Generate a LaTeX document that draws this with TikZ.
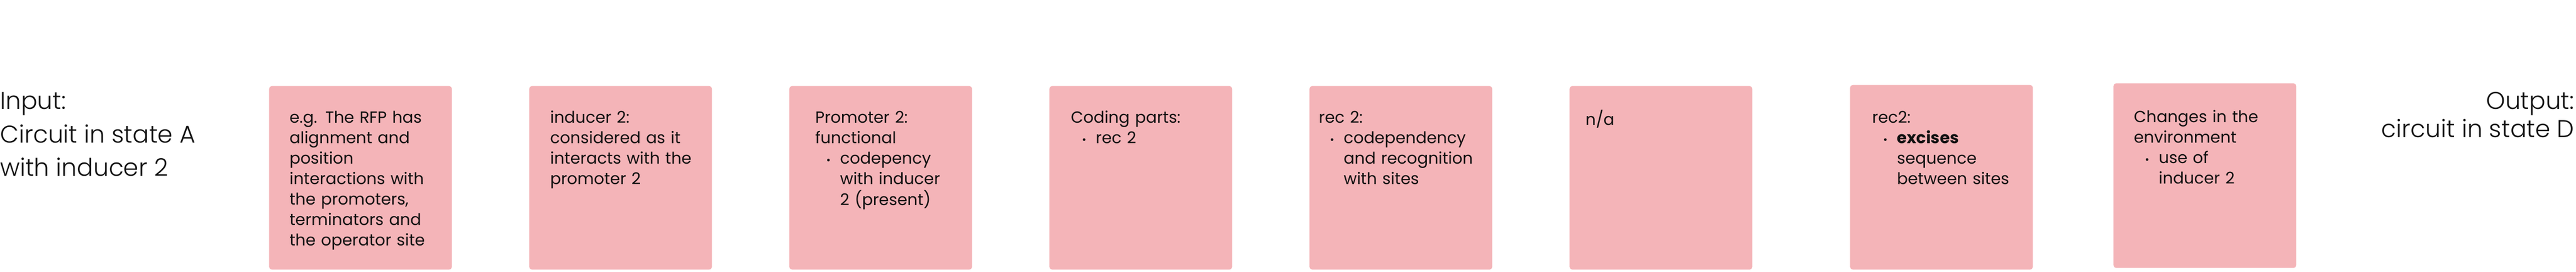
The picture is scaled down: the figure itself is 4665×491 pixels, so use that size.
\documentclass[tikz,border=0pt]{standalone}
\usepackage{fontspec}
\setmainfont{Poppins}
\newfontfamily\lightfont{Poppins Light}
\usetikzlibrary{positioning}

\definecolor{cardpink}{RGB}{244,180,184}
\definecolor{inkblack}{RGB}{17,17,17}

% bullet line, its lines kept under the first word
\newcommand{\bitem}[1]{\par\noindent\hspace*{4mm}\makebox[5mm][l]{\fontsize{11pt}{11pt}\selectfont •}\begin{tabular}[t]{@{}l@{}}#1\end{tabular}}

\tikzset{
  card/.style={fill=cardpink, rounded corners=1mm, inner sep=0pt, anchor=south west,
    minimum width=66.2mm, minimum height=66.4mm},
  cardtext/.style={inner sep=0pt, anchor=north west, text width=64mm, align=left,
    text=inkblack, font=\fontsize{16.6pt}{21.05pt}\selectfont},
  sidetext/.style={inner sep=0pt, text=inkblack, font=\lightfont\fontsize{25pt}{34.7pt}\selectfont}
}

\begin{document}
\begin{tikzpicture}[x=0.2mm, y=0.2mm]
\useasboundingbox (0,0) rectangle (4665,491);
% Input and output
\node[sidetext, anchor=north west, align=left] (input) at (0,337) {\strut Input:\\Circuit in state A\\with inducer 2};
\node[sidetext, anchor=north east, align=right] (output) at (4662,337) {\strut Output:\\[-2mm]circuit in state D};
% Cards
\node[card] (rfp) at (487,3) {};
\node[card] (inducer) at (958,3) {};
\node[card] (promoter) at (1429,3) {};
\node[card] (coding) at (1900,3) {};
\node[card] (recog) at (2371,3) {};
\node[card] (none) at (2842,3) {};
\node[card, minimum height=66.8mm] (excise) at (3350,3) {};
\node[card, minimum height=66.8mm] (environment) at (3827,6) {};
% Card texts
\node[cardtext] (rfptext) at ([shift={(37,-41)}]rfp.north west) {\strut e.g. The RFP has\\alignment and\\position\\interactions with\\the promoters,\\terminators and\\the operator site};
\node[cardtext] (inducertext) at ([shift={(38,-41)}]inducer.north west) {\strut inducer 2:\\considered as it\\interacts with the\\promoter 2};
\node[cardtext] (promotertext) at ([shift={(47,-41)}]promoter.north west) {\strut Promoter 2:\\functional
  \bitem{codepency\\with inducer\\2 (present)}};
\node[cardtext] (codingtext) at ([shift={(39,-41)}]coding.north west) {\strut Coding parts:
  \bitem{rec 2}};
\node[cardtext] (recogtext) at ([shift={(17,-41)}]recog.north west) {\strut rec 2:
  \bitem{codependency\\and recognition\\with sites}};
\node[cardtext] (nonetext) at ([shift={(29,-43)}]none.north west) {\strut n/a};
\node[cardtext] (excisetext) at ([shift={(40,-43)}]excise.north west) {\strut rec2:
  \bitem{\textbf{excises}\\sequence\\between sites}};
\node[cardtext] (environmenttext) at ([shift={(37,-45)}]environment.north west) {\strut Changes in the\\environment
  \bitem{use of\\inducer 2}};
\end{tikzpicture}
\end{document}
